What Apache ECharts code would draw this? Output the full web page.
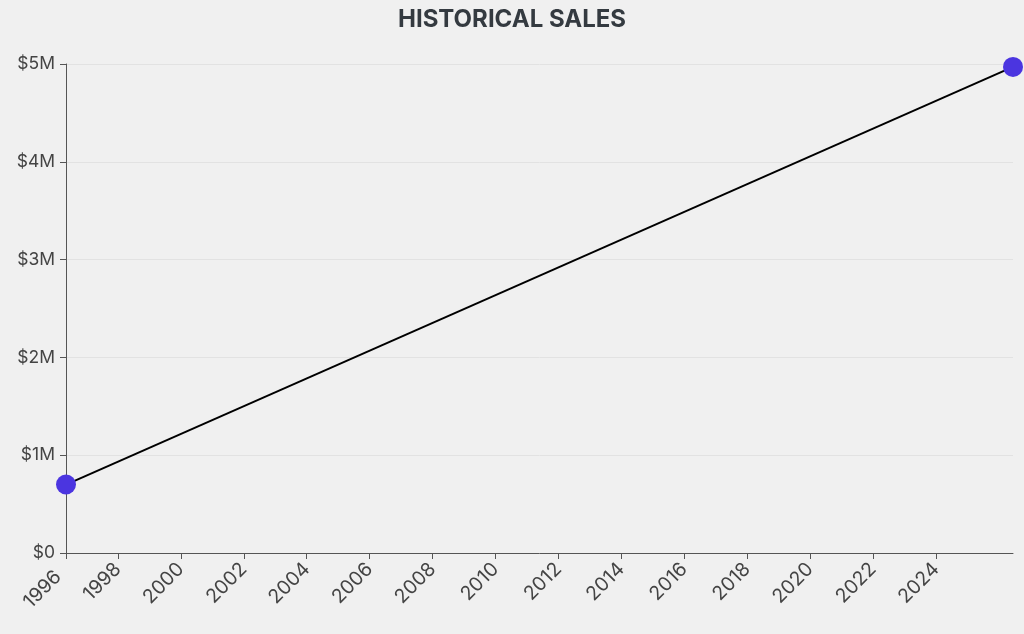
<!DOCTYPE html>
<html>
<head>
<meta charset="utf-8">
<script src="https://cdn.jsdelivr.net/npm/echarts@6/dist/echarts.min.js"></script>
<style>
  html, body { margin: 0; padding: 0; background: #f0f0f0; }
  #chart { width: 1024px; height: 634px; }
</style>
</head>
<body>
<div id="chart"></div>
<script>
// Sales history: first and latest recorded points
var saleDates = ['1996-05-08', '2026-06-14'];
var saleValues = [700000, 4970000];

// x axis: where the ticks sit and what they say
var tickDates = ['1996-05-08', '1998-01-01', '2000-01-01', '2002-01-01', '2004-01-01',
  '2006-01-01', '2008-01-01', '2010-01-01', '2012-01-01', '2014-01-01', '2016-01-01',
  '2018-01-01', '2020-01-01', '2022-01-01', '2024-01-01'];
var tickLabels = ['1996', '1998', '2000', '2002', '2004', '2006', '2008', '2010',
  '2012', '2014', '2016', '2018', '2020', '2022', '2024'];

var FONT = 'Inter, "Noto Sans", sans-serif';

// date string -> fractional year, so a plain value axis can carry it
function toYear(d) {
  var t = new Date(d + 'T00:00:00Z');
  var y = t.getUTCFullYear();
  var start = Date.UTC(y, 0, 1), end = Date.UTC(y + 1, 0, 1);
  return y + (t.getTime() - start) / (end - start);
}

var tickYears = tickDates.map(toYear);
var xs = saleDates.map(toYear);

var chart = echarts.init(document.getElementById('chart'), null, { renderer: 'canvas' });

chart.setOption({
  backgroundColor: '#f0f0f0',
  animation: false,
  title: {
    text: 'HISTORICAL SALES',
    left: 'center',
    top: 3,
    textStyle: { color: '#343a40', fontSize: 24, fontWeight: 'bold', fontFamily: FONT }
  },
  grid: { left: 66, right: 11, top: 64, bottom: 81, containLabel: false },
  xAxis: {
    type: 'value',
    min: xs[0],
    max: xs[xs.length - 1],
    axisLine: { lineStyle: { color: '#555', width: 1 } },
    axisTick: { show: true, length: 6, lineStyle: { color: '#555' }, customValues: tickYears },
    axisLabel: {
      customValues: tickYears,
      rotate: 45,
      margin: 13,
      padding: [0, 0, 0, 0],
      color: '#444',
      fontSize: 19.5,
      fontFamily: FONT,
      formatter: function (v) {
        var i = tickYears.indexOf(v);
        if (i < 0) return '';
        // the first label sits where Jan 1 of its year would be
        return i === 0 ? '{first|' + tickLabels[i] + '}' : '{std|' + tickLabels[i] + '}';
      },
      rich: {
        first: { color: '#444', fontSize: 19.5, fontFamily: FONT, padding: [0, 11, 0, 0] },
        std: { color: '#444', fontSize: 19.5, fontFamily: FONT, padding: [0, 0, 0, 3] }
      }
    },
    splitLine: { show: false }
  },
  yAxis: {
    type: 'value',
    min: 0,
    max: 5000000,
    interval: 1000000,
    axisLine: { show: true, lineStyle: { color: '#555', width: 1 } },
    axisTick: { show: true, length: 6, lineStyle: { color: '#555' } },
    axisLabel: {
      margin: 11,
      color: '#444',
      fontSize: 17.5,
      fontFamily: FONT,
      formatter: function (v) { return v === 0 ? '$0' : '$' + (v / 1000000) + 'M'; }
    },
    splitLine: { show: true, lineStyle: { color: '#e2e2e2', width: 1 } }
  },
  series: [{
    type: 'line',
    data: xs.map(function (x, i) { return [x, saleValues[i]]; }),
    symbol: 'circle',
    symbolSize: 20,
    lineStyle: { color: '#000', width: 2 },
    itemStyle: { color: '#4b35e0' },
    z: 3
  }]
});
</script>
</body>
</html>
